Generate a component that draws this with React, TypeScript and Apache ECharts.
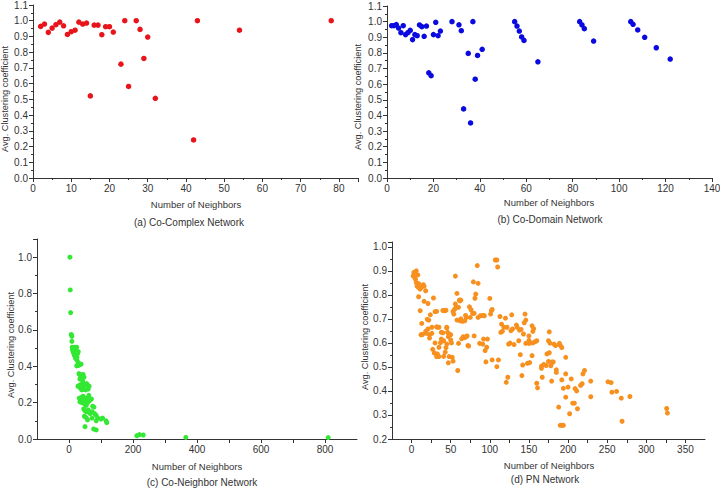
import React, { useEffect, useRef } from "react";
import * as echarts from "echarts";

// (a) Co-Complex Network: [neighbors, avg clustering coefficient]
const coComplexPoints: number[][] = [
  [2, 0.964], [3, 0.979], [4, 0.926], [5, 0.953], [6, 0.975], [7, 0.991], [8, 0.968],
  [9, 0.913], [10, 0.93], [11, 0.94], [12, 0.991], [13, 0.979], [14, 0.985], [15, 0.522],
  [16, 0.972], [17, 0.972], [18, 0.911], [19, 0.962], [20, 0.962], [21, 0.928], [23, 0.724],
  [24, 1.0], [25, 0.582], [27, 1.0], [28, 0.945], [29, 0.76], [30, 0.896], [32, 0.507],
  [42, 0.242], [43, 1.0], [54, 0.94], [78, 1.0],
];

// (b) Co-Domain Network
const coDomainPoints: number[][] = [
  [2, 0.974], [3, 0.974], [4, 0.981], [5, 0.959], [6, 0.929], [7, 0.974], [8, 0.917],
  [9, 0.929], [10, 0.944], [11, 0.885], [12, 0.917], [13, 0.91], [14, 0.979], [15, 0.968],
  [16, 0.906], [17, 0.972], [18, 0.673], [19, 0.654], [20, 0.917], [21, 0.996], [22, 0.91],
  [23, 0.94], [28, 1.0], [31, 0.98], [32, 0.942], [33, 0.442], [35, 0.797], [36, 0.352],
  [37, 1.0], [38, 0.632], [39, 0.784], [41, 0.823], [55, 1.0], [56, 0.972], [57, 0.94],
  [58, 0.902], [59, 0.88], [65, 0.743], [83, 1.0], [84, 0.979], [85, 0.955], [89, 0.876],
  [105, 1.0], [106, 0.983], [108, 0.947], [111, 0.9], [116, 0.833], [122, 0.761],
];

// (c) Co-Neighbor Network
const coNeighborPoints: number[][] = [
  [3, 1.0], [4, 0.82], [5, 0.695], [7, 0.575], [9, 0.565], [9, 0.537],
  [10, 0.505], [12, 0.497], [14, 0.5], [16, 0.495], [18, 0.505], [21, 0.5], [24, 0.505], [22, 0.49],
  [11, 0.49], [13, 0.48], [15, 0.47], [17, 0.46], [20, 0.445], [23, 0.44], [25, 0.45], [27, 0.47],
  [29, 0.48], [26, 0.43], [19, 0.455], [28, 0.41], [30, 0.405], [32, 0.415], [35, 0.41], [38, 0.412],
  [24, 0.402], [27, 0.405], [31, 0.36], [33, 0.355], [36, 0.35], [41, 0.352], [44, 0.355], [47, 0.34],
  [34, 0.33], [39, 0.335], [43, 0.32], [28, 0.29], [32, 0.295], [35, 0.28], [38, 0.3], [42, 0.305],
  [46, 0.29], [50, 0.3], [55, 0.305], [58, 0.298], [40, 0.27], [45, 0.275], [52, 0.27], [60, 0.275],
  [63, 0.29], [32, 0.225], [36, 0.22], [40, 0.23], [44, 0.235], [48, 0.215], [52, 0.22], [56, 0.225],
  [62, 0.24], [66, 0.215], [70, 0.22], [34, 0.205], [40, 0.2], [46, 0.198], [50, 0.19], [54, 0.185],
  [58, 0.2], [64, 0.21], [74, 0.18], [78, 0.175], [46, 0.165], [50, 0.155], [55, 0.15], [60, 0.16],
  [66, 0.14], [72, 0.15], [80, 0.14], [85, 0.13], [48, 0.125], [54, 0.118], [58, 0.105], [72, 0.115],
  [85, 0.1], [90, 0.115], [100, 0.11], [105, 0.115], [116, 0.1], [118, 0.09], [50, 0.068], [77, 0.055],
  [85, 0.05], [212, 0.018], [220, 0.024], [232, 0.022], [365, 0.009], [810, 0.008],
];

// (d) PN Network
const pnPoints: number[][] = [
  [2, 0.879], [3, 0.893], [4, 0.872], [5, 0.865], [6, 0.9], [8, 0.883], [6, 0.851], [7, 0.837],
  [9, 0.83], [9, 0.847], [11, 0.824], [13, 0.833], [15, 0.842], [16, 0.836], [18, 0.817], [9, 0.792],
  [16, 0.773], [21, 0.764], [28, 0.787], [11, 0.734], [24, 0.717], [32, 0.731], [42, 0.734], [44, 0.736],
  [53, 0.731], [55, 0.74], [57, 0.748], [60, 0.748], [61, 0.778], [63, 0.778], [58, 0.695], [62, 0.692],
  [65, 0.69], [68, 0.692], [69, 0.714], [74, 0.75], [76, 0.738], [78, 0.723], [80, 0.723], [75, 0.706],
  [81, 0.786], [82, 0.803], [79, 0.854], [85, 0.848], [84, 0.922], [56, 0.878], [85, 0.706], [88, 0.713],
  [91, 0.714], [93, 0.713], [100, 0.785], [102, 0.734], [103, 0.739], [101, 0.72], [107, 0.945], [109, 0.945],
  [110, 0.916], [13, 0.681], [20, 0.698], [12, 0.634], [18, 0.648], [21, 0.658], [19, 0.64], [23, 0.634],
  [26, 0.665], [32, 0.667], [35, 0.665], [38, 0.644], [45, 0.665], [46, 0.644], [48, 0.637], [50, 0.634],
  [38, 0.616], [41, 0.609], [37, 0.601], [30, 0.6], [27, 0.573], [29, 0.558], [33, 0.554], [32, 0.543],
  [35, 0.543], [41, 0.544], [43, 0.561], [44, 0.58], [45, 0.595], [48, 0.543], [47, 0.517], [53, 0.524],
  [59, 0.485], [60, 0.598], [64, 0.617], [66, 0.626], [68, 0.622], [71, 0.629], [72, 0.589], [80, 0.629],
  [87, 0.598], [91, 0.595], [92, 0.616], [97, 0.616], [94, 0.568], [96, 0.582], [95, 0.521], [103, 0.529],
  [109, 0.501], [14, 0.635], [22, 0.695], [23, 0.62], [30, 0.73], [33, 0.665], [35, 0.582], [40, 0.642],
  [47, 0.626], [50, 0.612], [51, 0.6], [52, 0.54], [54, 0.72], [56, 0.762], [58, 0.806], [62, 0.775],
  [63, 0.7], [70, 0.706], [70, 0.626], [73, 0.587], [26, 0.64], [40, 0.735], [45, 0.662],
  [113, 0.71], [120, 0.703], [128, 0.717], [115, 0.678], [118, 0.665], [122, 0.665], [114, 0.644], [116, 0.648],
  [127, 0.651], [129, 0.658], [134, 0.674], [135, 0.665], [138, 0.653], [140, 0.656], [145, 0.72], [146, 0.695],
  [144, 0.684], [143, 0.637], [150, 0.629], [150, 0.61], [154, 0.671], [156, 0.659], [155, 0.648], [124, 0.595],
  [126, 0.599], [131, 0.593], [137, 0.609], [146, 0.598], [150, 0.598], [152, 0.6], [155, 0.6], [158, 0.605],
  [160, 0.609], [139, 0.551], [154, 0.547], [142, 0.508], [148, 0.515], [151, 0.518], [111, 0.529], [123, 0.457],
  [121, 0.436], [141, 0.464], [160, 0.432], [161, 0.413], [166, 0.503], [166, 0.494], [169, 0.51], [172, 0.506],
  [175, 0.523], [173, 0.554], [176, 0.559], [178, 0.505], [180, 0.518], [177, 0.599], [175, 0.609], [179, 0.52],
  [181, 0.521], [176, 0.646], [167, 0.457], [179, 0.441], [185, 0.488], [185, 0.477], [190, 0.59], [189, 0.598],
  [182, 0.595], [184, 0.589], [192, 0.581], [197, 0.54], [192, 0.446], [194, 0.411], [197, 0.471], [200, 0.416],
  [204, 0.45], [206, 0.349], [208, 0.349], [209, 0.41], [211, 0.4], [218, 0.43], [219, 0.471], [221, 0.485],
  [216, 0.423], [229, 0.441], [229, 0.376], [188, 0.333], [197, 0.374], [202, 0.305], [212, 0.326], [190, 0.257],
  [192, 0.257], [194, 0.257], [251, 0.438], [255, 0.435], [256, 0.395], [262, 0.398], [268, 0.37], [279, 0.377],
  [269, 0.274], [326, 0.327], [327, 0.308],
];

const panelCaptions = [
  "(a) Co-Complex Network",
  "(b) Co-Domain Network",
  "(c) Co-Neighbor Network",
  "(d) PN Network",
];
const xTitle = "Number of Neighbors";
const yTitle = "Avg. Clustering coefficient";

const FONT = "'Liberation Sans', Arial, sans-serif";
const AX = "#333";

function axisBase(gridIndex: number) {
  return {
    gridIndex,
    axisLine: { show: true, onZero: false, lineStyle: { color: AX, width: 1 } },
    axisTick: { show: true, inside: false, length: 4, lineStyle: { color: AX } },
    minorTick: { show: true, splitNumber: 2, length: 2, lineStyle: { color: AX } },
    splitLine: { show: false },
    minorSplitLine: { show: false },
    axisLabel: { color: "#333", fontSize: 10, fontFamily: FONT, margin: 5 },
  };
}

export default function App() {
  const ref = useRef<HTMLDivElement>(null);
  useEffect(() => {
    if (!ref.current) return;
    const chart = echarts.init(ref.current, undefined, { renderer: "svg" });
    const fmt1 = (v: number) => v.toFixed(1);
    const text = (t: string, x: number, y: number, size: number, rot = 0) => ({
      type: "text",
      x,
      y,
      rotation: rot,
      style: {
        text: t,
        fill: "#333",
        font: `${size}px ${FONT}`,
        align: "center",
        verticalAlign: "middle",
      },
    });
    const base = (i: number) => axisBase(i);
    const dot = (color: string) => ({ color, opacity: 1 });
    chart.setOption({
      animation: false,
      backgroundColor: "#fff",
      grid: [
        { left: 33, top: 5, width: 325, height: 173, outerBoundsMode: "none" },
        { left: 387, top: 6, width: 325, height: 172, outerBoundsMode: "none" },
        { left: 37, top: 239, width: 320, height: 200, outerBoundsMode: "none" },
        { left: 392, top: 242, width: 313, height: 197, outerBoundsMode: "none" },
      ],
      xAxis: [
        { ...base(0), type: "value", min: 0, max: 85, interval: 10,
          axisLabel: { ...base(0).axisLabel, showMaxLabel: false } },
        { ...base(1), type: "value", min: 0, max: 140, interval: 20 },
        { ...base(2), type: "value", min: -100, max: 900, interval: 100,
          minorTick: { show: false },
          axisLabel: { ...base(2).axisLabel, showMinLabel: false, showMaxLabel: false,
            formatter: (v: number) => (v % 200 === 0 && v >= 0 ? String(v) : "") } },
        { ...base(3), type: "value", min: -25, max: 375, interval: 25,
          minorTick: { show: false },
          axisLabel: { ...base(3).axisLabel, showMinLabel: false, showMaxLabel: false,
            formatter: (v: number) => (v % 50 === 0 && v >= 0 ? String(v) : "") } },
      ],
      yAxis: [
        { ...base(0), type: "value", min: 0, max: 1.1, interval: 0.1,
          axisLabel: { ...base(0).axisLabel, formatter: fmt1 } },
        { ...base(1), type: "value", min: 0, max: 1.1, interval: 0.1,
          axisLabel: { ...base(1).axisLabel, formatter: fmt1 } },
        { ...base(2), type: "value", min: 0, max: 1.1, interval: 0.2,
          axisLabel: { ...base(2).axisLabel, formatter: fmt1, showMaxLabel: false } },
        { ...base(3), type: "value", min: 0.2, max: 1.02, interval: 0.1,
          axisLabel: { ...base(3).axisLabel, formatter: fmt1, showMaxLabel: false } },
      ],
      series: [
        { type: "scatter", xAxisIndex: 0, yAxisIndex: 0, data: coComplexPoints,
          symbolSize: 5.5, itemStyle: dot("#e8141c") },
        { type: "scatter", xAxisIndex: 1, yAxisIndex: 1, data: coDomainPoints,
          symbolSize: 5.5, itemStyle: dot("#0a0ae0") },
        { type: "scatter", xAxisIndex: 2, yAxisIndex: 2, data: coNeighborPoints,
          symbolSize: 5, itemStyle: dot("#33e833") },
        { type: "scatter", xAxisIndex: 3, yAxisIndex: 3, data: pnPoints,
          symbolSize: 5, itemStyle: dot("#f7901e") },
      ],
      graphic: [
        text(xTitle, 196, 204, 9.5),
        text(panelCaptions[0], 189, 222, 10),
        text(yTitle, 5, 99, 9.2, Math.PI / 2),
        text(xTitle, 549, 202, 9.5),
        text(panelCaptions[1], 550, 219, 10),
        text(yTitle, 358, 97, 9.2, Math.PI / 2),
        text(xTitle, 197, 466, 9.5),
        text(panelCaptions[2], 202, 482, 10),
        text(yTitle, 11, 345, 9.2, Math.PI / 2),
        text(xTitle, 549, 465, 9.5),
        text(panelCaptions[3], 545, 479, 10),
        text(yTitle, 365, 337, 9.2, Math.PI / 2),
      ],
    });
    return () => chart.dispose();
  }, []);
  return (
    <div
      ref={ref}
      style={{ position: "fixed", left: 0, top: 0, width: 720, height: 488, background: "#fff" }}
    />
  );
}
